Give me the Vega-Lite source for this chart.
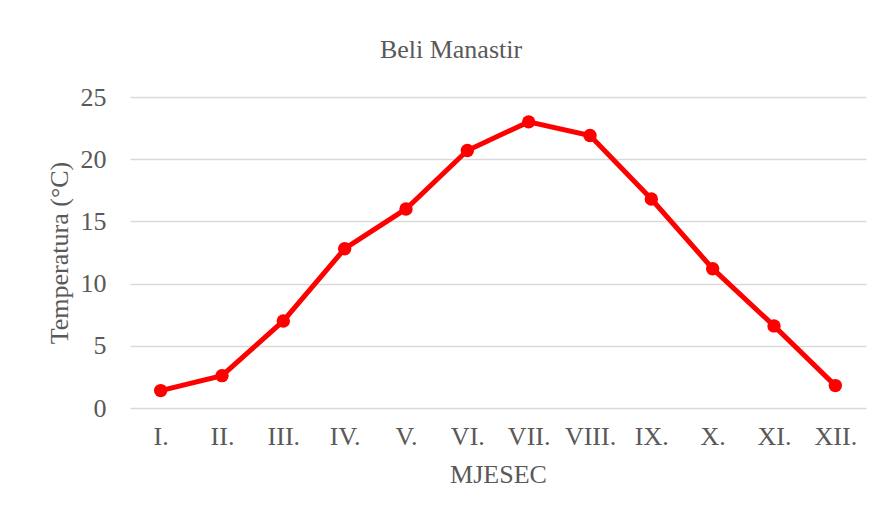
{
  "$schema": "https://vega.github.io/schema/vega-lite/v6.json",
  "autosize": "none",
  "width": 736,
  "height": 311,
  "padding": {"left": 130, "top": 97, "right": 16, "bottom": 112},
  "background": "white",
  "title": {
    "text": "Beli Manastir",
    "font": "Liberation Serif",
    "fontSize": 26,
    "fontWeight": "normal",
    "color": "#595959",
    "baseline": "alphabetic",
    "offset": 0,
    "dx": -47
  },
  "config": {
    "view": {"stroke": null},
    "axis": {
      "labelFont": "Liberation Serif",
      "titleFont": "Liberation Serif",
      "labelFontSize": 26,
      "titleFontSize": 26,
      "titleFontWeight": "normal",
      "labelColor": "#595959",
      "titleColor": "#595959",
      "gridColor": "#D9D9D9",
      "gridWidth": 1.5,
      "domain": false,
      "ticks": false,
      "tickSize": 0
    }
  },
  "data": {
    "values": [
      {"mjesec": "I.", "t": 1.4},
      {"mjesec": "II.", "t": 2.6},
      {"mjesec": "III.", "t": 7.0},
      {"mjesec": "IV.", "t": 12.8},
      {"mjesec": "V.", "t": 16.0},
      {"mjesec": "VI.", "t": 20.7},
      {"mjesec": "VII.", "t": 23.0},
      {"mjesec": "VIII.", "t": 21.9},
      {"mjesec": "IX.", "t": 16.8},
      {"mjesec": "X.", "t": 11.2},
      {"mjesec": "XI.", "t": 6.6},
      {"mjesec": "XII.", "t": 1.8}
    ]
  },
  "mark": {
    "type": "line",
    "color": "#FF0000",
    "strokeWidth": 5,
    "point": {"filled": true, "size": 180, "color": "#FF0000", "opacity": 1}
  },
  "encoding": {
    "x": {
      "field": "mjesec",
      "type": "ordinal",
      "sort": null,
      "title": "MJESEC",
      "axis": {"labelAngle": 0, "labelPadding": 15, "titlePadding": 12, "grid": false}
    },
    "y": {
      "field": "t",
      "type": "quantitative",
      "title": "Temperatura (°C)",
      "scale": {"domain": [0, 25], "nice": false},
      "axis": {"values": [0, 5, 10, 15, 20, 25], "labelPadding": 24, "titlePadding": 8, "grid": true}
    }
  }
}
